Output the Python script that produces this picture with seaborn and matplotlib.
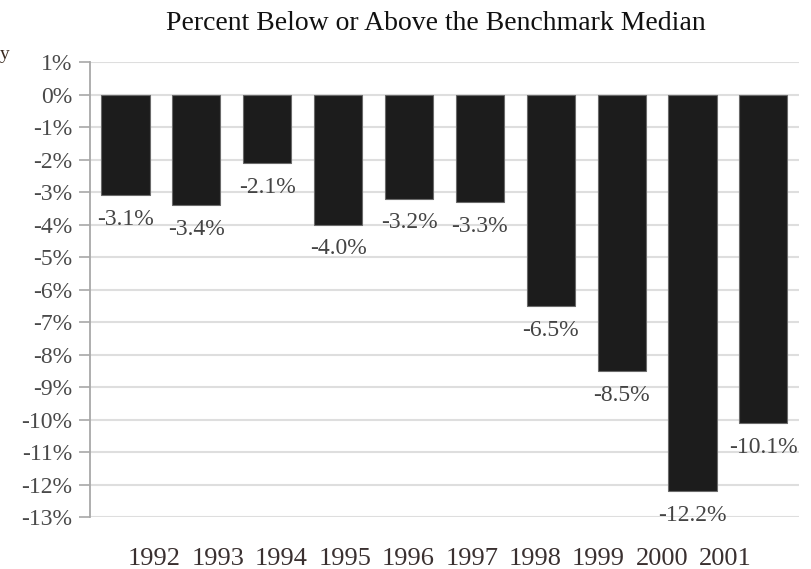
import matplotlib
matplotlib.use("Agg")
import matplotlib.pyplot as plt
import seaborn as sns
import pandas as pd

years = ["1992", "1993", "1994", "1995", "1996", "1997", "1998", "1999", "2000", "2001"]
pct_vs_median = [-3.1, -3.4, -2.1, -4.0, -3.2, -3.3, -6.5, -8.5, -12.2, -10.1]
y_ticks = list(range(1, -14, -1))

df = pd.DataFrame({"year": years, "pct": pct_vs_median})

sns.set_theme(style="white")
plt.rcParams["font.family"] = ["Liberation Serif", "DejaVu Serif"]

fig = plt.figure(figsize=(8.11, 5.69), dpi=100)
ax = fig.add_axes([0.111, 0.091, 0.874, 0.800])

sns.barplot(data=df, x="year", y="pct", color="#1c1c1c", width=0.68,
            edgecolor="#6a6a6a", linewidth=0.8, saturation=1, ax=ax)

# value labels under each bar end
for i, v in enumerate(pct_vs_median):
    ax.annotate(f"{v:.1f}%", (i, v), xytext=(0, -10), textcoords="offset points",
                ha="center", va="top", fontsize=17, color="#444444")

ax.set_ylim(-13, 1)
ax.set_xlim(-0.5, 9.5)
ax.set_yticks(y_ticks)
ax.set_yticklabels([f"{t}%" for t in y_ticks])

# year labels in the original sit a bit right of the bars and closer together
ax.set_xticks([0.41 + 0.895 * i for i in range(len(years))])
ax.set_xticklabels(years)

ax.yaxis.grid(True, color="#dedede", linewidth=1.5)
ax.set_axisbelow(True)
for s in ["top", "right", "bottom"]:
    ax.spines[s].set_visible(False)
ax.spines["left"].set_color("#a8a8a8")
ax.spines["left"].set_linewidth(1.3)
ax.tick_params(axis="y", left=True, length=8, width=1.2, color="#a8a8a8",
               labelsize=17, labelcolor="#4a4a4a", pad=5)
ax.tick_params(axis="x", bottom=False, labelsize=19, labelcolor="#3a3030", pad=16)
ax.set_xlabel("")
ax.set_ylabel("")

fig.text(0.538, 0.958, "Percent Below or Above the Benchmark Median", ha="center",
         va="center", fontsize=20, color="#111111")
fig.text(0.0, 0.905, "y", ha="left", va="center", fontsize=14, color="#3a2a20")

fig.savefig("out.png", dpi=100)
